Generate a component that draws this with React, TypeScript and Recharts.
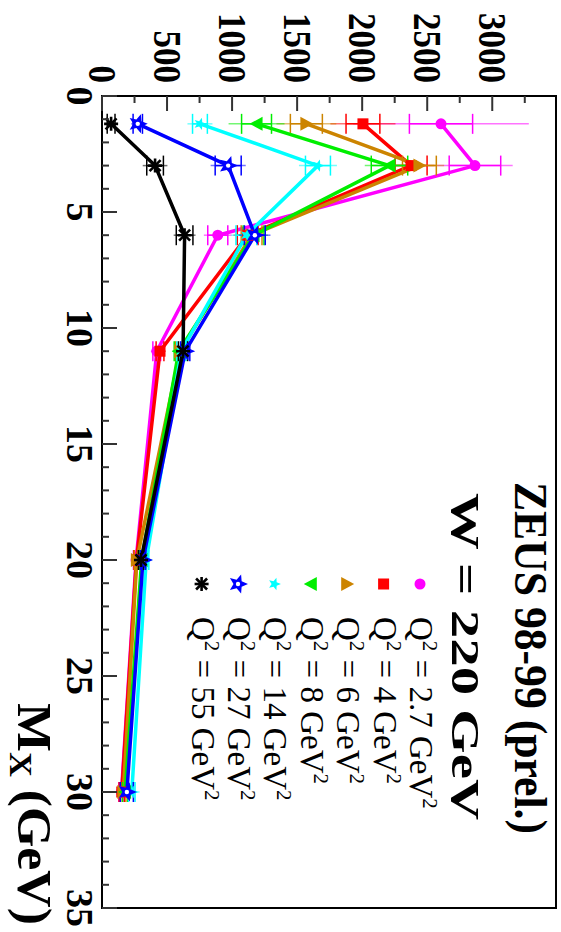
import React from "react";
import { LineChart, Line, XAxis, YAxis, ErrorBar, ReferenceArea } from "recharts";

// M_X bin centres (GeV)
const mxBins = [1.2, 3, 6, 11, 20, 30];

// values per Q^2 bin
const q2_2p7 = [2606, 2867, 890, 421, 262, 150];
const q2_4 = [2006, 2376, 1120, 446, 265, 152];
const q2_6 = [1571, 2440, 1150, 600, 268, 164];
const q2_8 = [1188, 2210, 1165, 590, 305, 178];
const q2_14 = [753, 1660, 1110, 610, 340, 229];
const q2_27 = [275, 970, 1175, 640, 315, 191];
const q2_55 = [70, 408, 635, 623, 300];

// inner (stat) and outer (total) errors
const stat_2p7 = [243, 198, 77, 30, 20, 20];
const tot_2p7 = [675, 290, 107, 45, 30, 25];
const stat_4 = [130, 123, 80, 30, 20, 20];
const tot_4 = [250, 180, 110, 45, 30, 25];
const stat_6 = [123, 130, 80, 35, 20, 20];
const tot_6 = [230, 190, 110, 50, 30, 25];
const stat_8 = [115, 140, 80, 35, 20, 20];
const tot_8 = [215, 190, 110, 50, 30, 25];
const stat_14 = [57, 96, 80, 35, 20, 25];
const tot_14 = [96, 146, 115, 50, 30, 60];
const stat_27 = [36, 100, 80, 35, 20, 50];
const tot_27 = [50, 135, 120, 50, 30, 60];
const stat_55 = [30, 64, 64, 35, 20];
const tot_55 = [50, 95, 84, 50, 30];

const q2Labels = ["2.7", "4", "6", "8", "14", "27", "55"];
const mxTicks = Array.from({ length: 36 }, (_, i) => i);
const valueTicks = [0, 250, 500, 750, 1000, 1250, 1500, 1750, 2000, 2250, 2500, 2750, 3000, 3250];

const W = 932;
const H = 561;
const FONT = "'Liberation Serif', 'DejaVu Serif', serif";

type Shape = "circle" | "square" | "up" | "down" | "star" | "openstar" | "asterisk";

const series: { name: string; color: string; shape: Shape; vals: number[]; stat: number[]; tot: number[] }[] = [
  { name: "2.7", color: "#ff00ff", shape: "circle", vals: q2_2p7, stat: stat_2p7, tot: tot_2p7 },
  { name: "4", color: "#ff0000", shape: "square", vals: q2_4, stat: stat_4, tot: tot_4 },
  { name: "6", color: "#cc8400", shape: "up", vals: q2_6, stat: stat_6, tot: tot_6 },
  { name: "8", color: "#00ee00", shape: "down", vals: q2_8, stat: stat_8, tot: tot_8 },
  { name: "14", color: "#00ffff", shape: "star", vals: q2_14, stat: stat_14, tot: tot_14 },
  { name: "27", color: "#0000ff", shape: "openstar", vals: q2_27, stat: stat_27, tot: tot_27 },
  { name: "55", color: "#000000", shape: "asterisk", vals: q2_55, stat: stat_55, tot: tot_55 },
];

function starPoints(cx: number, cy: number, ro: number, ri: number) {
  const pts: string[] = [];
  for (let i = 0; i < 10; i++) {
    const r = i % 2 === 0 ? ro : ri;
    const a = -Math.PI / 2 + (i * Math.PI) / 5;
    pts.push(`${cx + r * Math.cos(a)},${cy + r * Math.sin(a)}`);
  }
  return pts.join(" ");
}

function Marker({ shape, cx, cy, color }: { shape: Shape; cx: number; cy: number; color: string }) {
  switch (shape) {
    case "circle":
      return <circle cx={cx} cy={cy} r={5.5} fill={color} />;
    case "square":
      return <rect x={cx - 5.5} y={cy - 5.5} width={11} height={11} fill={color} />;
    case "up":
      return <polygon points={`${cx},${cy - 7} ${cx + 7},${cy + 6} ${cx - 7},${cy + 6}`} fill={color} />;
    case "down":
      return <polygon points={`${cx},${cy + 7} ${cx + 7},${cy - 6} ${cx - 7},${cy - 6}`} fill={color} />;
    case "star":
      return <polygon points={starPoints(cx, cy, 6.5, 2.8)} fill={color} />;
    case "openstar":
      return (
        <g>
          <polygon points={starPoints(cx, cy, 10, 4.5)} fill={color} />
          <circle cx={cx} cy={cy} r={2.2} fill="#fff" />
        </g>
      );
    default:
      return (
        <g stroke={color} strokeWidth={2.6}>
          <line x1={cx - 7} y1={cy} x2={cx + 7} y2={cy} />
          <line x1={cx} y1={cy - 7} x2={cx} y2={cy + 7} />
          <line x1={cx - 5.5} y1={cy - 5.5} x2={cx + 5.5} y2={cy + 5.5} />
          <line x1={cx - 5.5} y1={cy + 5.5} x2={cx + 5.5} y2={cy - 5.5} />
        </g>
      );
  }
}

function MxTick(props: any) {
  const { x, y, payload } = props;
  const major = payload.value % 5 === 0;
  return (
    <g>
      <line x1={x} y1={y} x2={x} y2={y - (major ? 15 : 7)} stroke="#333" strokeWidth={2} />
      {major && (
        <text x={x} y={y + 35} textAnchor="middle" fontFamily={FONT} fontWeight="bold" fontSize={38} fill="#000">
          {payload.value}
        </text>
      )}
    </g>
  );
}

function ValueTick(props: any) {
  const { x, y, payload } = props;
  const major = payload.value % 500 === 0;
  const label = String(payload.value);
  return (
    <g>
      <line x1={x} y1={y} x2={x + (major ? 15 : 7)} y2={y} stroke="#333" strokeWidth={2} />
      {major && (
        <text
          x={x - 13}
          y={y + 13}
          textAnchor="end"
          fontFamily={FONT}
          fontWeight="bold"
          fontSize={39}
          fill="#000"
          textLength={label.length * 17.5}
          lengthAdjust="spacingAndGlyphs"
        >
          {label}
        </text>
      )}
    </g>
  );
}

export default function App() {
  return (
    <div style={{ position: "fixed", left: 0, top: 0, width: 561, height: 932, background: "#fff", overflow: "hidden" }}>
      <div
        style={{
          position: "absolute",
          left: 0,
          top: 0,
          width: W,
          height: H,
          transformOrigin: "0 0",
          transform: "translateX(561px) rotate(90deg)",
        }}
      >
        <LineChart width={W} height={H} margin={{ top: 5, right: 24, left: 0, bottom: 0 }}>
          <XAxis
            type="number"
            dataKey="mx"
            domain={[0, 35]}
            ticks={mxTicks}
            interval={0}
            height={102}
            tickSize={0}
            tickMargin={0}
            axisLine={false}
            tickLine={false}
            tick={MxTick}
            allowDataOverflow
          />
          <YAxis
            type="number"
            domain={[0, 3490]}
            ticks={valueTicks}
            interval={0}
            width={96}
            tickSize={0}
            tickMargin={0}
            axisLine={false}
            tickLine={false}
            tick={ValueTick}
            allowDataOverflow
          />
          {series.map((s) => (
            <Line
              key={s.name}
              data={s.vals.map((v, i) => ({ mx: mxBins[i], v, stat: s.stat[i], tot: s.tot[i] }))}
              dataKey="v"
              stroke={s.color}
              strokeWidth={3.5}
              isAnimationActive={false}
              dot={(p: any) => <Marker key={`${s.name}-${p.index}`} shape={s.shape} cx={p.cx} cy={p.cy} color={s.color} />}
              activeDot={false}
            >
              <ErrorBar dataKey="tot" width={0} stroke={s.color} strokeWidth={1.5} strokeOpacity={0.55} direction="y" isAnimationActive={false} />
              <ErrorBar dataKey="stat" width={10} stroke={s.color} strokeWidth={1.5} direction="y" isAnimationActive={false} />
            </Line>
          ))}
          <ReferenceArea x1={0} x2={35} y1={0} y2={3490} fill="none" stroke="#000" strokeWidth={2} ifOverflow="visible" />
        </LineChart>
        <svg width={W} height={H} style={{ position: "absolute", left: 0, top: 0, pointerEvents: "none" }}>
          <text x={482} y={46} fontFamily={FONT} fontWeight="bold" fontSize={47} textLength={352} lengthAdjust="spacingAndGlyphs">
            ZEUS 98-99 (prel.)
          </text>
          <text x={493} y={109} fontFamily={FONT} fontWeight="bold" fontSize={41} textLength={327} lengthAdjust="spacingAndGlyphs">
            W = 220 GeV
          </text>
          {series.map((s, i) => {
            const y = 141 + i * 36.4;
            return (
              <g key={s.name}>
                <Marker shape={s.shape} cx={584} cy={y} color={s.color} />
                <text x={617} y={y + 10} fontFamily={FONT} fontSize={33} fill="#000">
                  Q<tspan dy={-13} fontSize={21}>2</tspan>
                  <tspan dy={13}> = {q2Labels[i]} GeV</tspan>
                  <tspan dy={-13} fontSize={21}>2</tspan>
                </text>
              </g>
            );
          })}
          <text x={925} y={543} textAnchor="end" fontFamily={FONT} fontWeight="bold" fontSize={48} textLength={222} lengthAdjust="spacingAndGlyphs">
            M<tspan dy={8} fontSize={32}>X</tspan>
            <tspan dy={-8}> (GeV)</tspan>
          </text>
        </svg>
      </div>
    </div>
  );
}
